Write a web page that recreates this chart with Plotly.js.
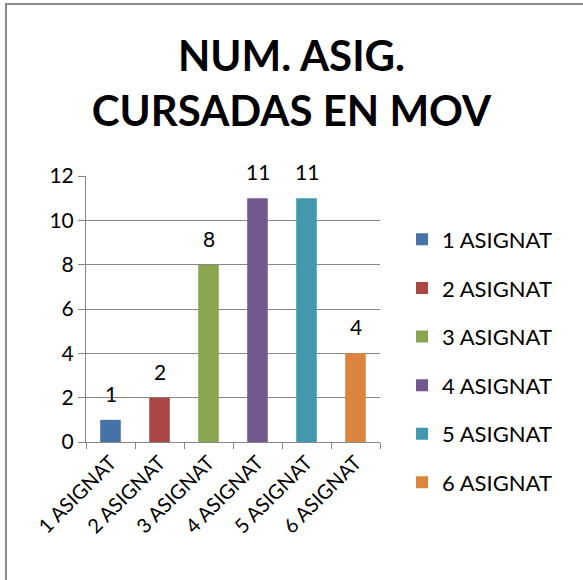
<!DOCTYPE html>
<html>
<head>
<meta charset="utf-8">
<script src="https://cdn.plot.ly/plotly-3.0.1.min.js"></script>
<style>
html,body{margin:0;padding:0;background:#fff;}
#wrap{position:relative;width:583px;height:580px;overflow:hidden;}
#chart{width:583px;height:580px;}
#frame{position:absolute;left:5px;top:3px;width:600px;height:600px;border-left:2px solid #8a8a8a;border-top:2px solid #8a8a8a;pointer-events:none;}
</style>
</head>
<body>
<div id="wrap"><div id="chart"></div><div id="frame"></div></div>
<script>
const categories = ["1 ASIGNAT","2 ASIGNAT","3 ASIGNAT","4 ASIGNAT","5 ASIGNAT","6 ASIGNAT"];
const values = [1, 2, 8, 11, 11, 4];
const colors = ["#4572A7","#AA4643","#89A54E","#71588F","#4198AF","#DB843D"];
const yTicks = [0, 2, 4, 6, 8, 10, 12];

const FONT = "Lato, 'Open Sans', sans-serif";

const traces = categories.map((c, i) => ({
  type: "bar",
  name: c,
  x: [c],
  y: [values[i]],
  width: 0.42,
  marker: {color: colors[i]},
  legendgroup: "g" + i
}));

const annotations = categories.map((c, i) => ({
  x: c, y: values[i], xref: "x", yref: "y",
  text: String(values[i]),
  showarrow: false,
  yanchor: "bottom",
  yshift: 12,
  font: {family: FONT, size: 21, color: "#000"}
}));

const layout = {
  width: 583, height: 580,
  margin: {l: 86, r: 203, t: 176, b: 138},
  paper_bgcolor: "#fff", plot_bgcolor: "#fff",
  barmode: "overlay",
  title: {
    text: "<b>NUM. ASIG.<br>CURSADAS EN MOV</b>",
    font: {family: FONT, size: 42, color: "#000"},
    x: 0.5, xanchor: "center", y: 0.877, yanchor: "middle"
  },
  annotations: annotations,
  xaxis: {
    type: "category",
    categoryorder: "array", categoryarray: categories,
    tickangle: -45,
    tickfont: {family: FONT, size: 20, color: "#000"},
    showline: true, linecolor: "#868686", linewidth: 1,
    ticks: "outside", ticklen: 6, tickcolor: "#868686",
    tickson: "boundaries",
    showgrid: false
  },
  yaxis: {
    range: [0, 12],
    tickvals: yTicks,
    tickfont: {family: FONT, size: 21, color: "#000"},
    showline: true, linecolor: "#868686", linewidth: 1,
    ticks: "outside", ticklen: 7, tickcolor: "#868686",
    showgrid: true, gridcolor: "#868686", gridwidth: 1,
    zeroline: false
  },
  showlegend: true,
  legend: {
    x: 1.075, xanchor: "left",
    y: 0.84, yanchor: "top",
    maxheight: 500,
    font: {family: FONT, size: 22, color: "#000"},
    traceorder: "grouped",
    tracegroupgap: 17,
    itemwidth: 30
  }
};

Plotly.newPlot("chart", traces, layout, {displayModeBar: false, staticPlot: true});
</script>
</body>
</html>
